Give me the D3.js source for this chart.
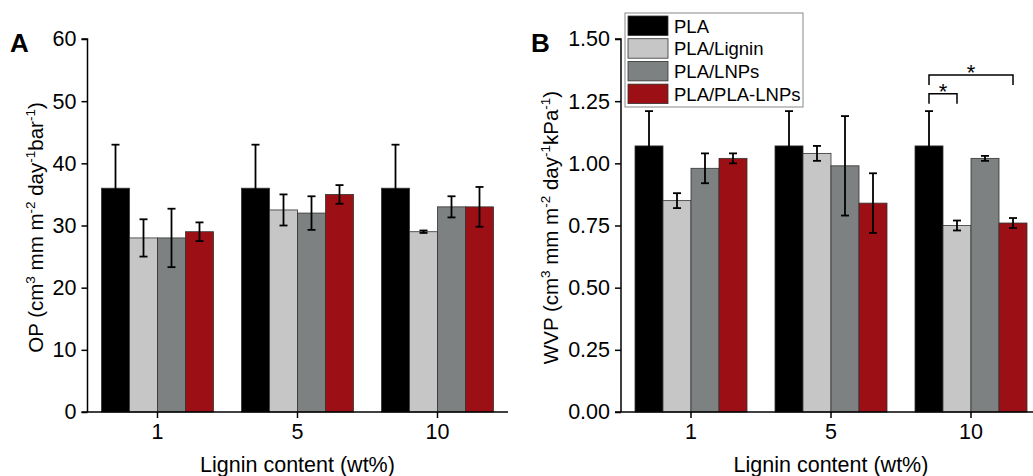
<!DOCTYPE html>
<html><head><meta charset="utf-8">
<script src="https://cdn.jsdelivr.net/npm/d3@7"></script>
<style>body{margin:0;background:#fff}svg{display:block;font-family:"Liberation Sans",Arial,sans-serif}</style>
</head><body>
<svg id="c" width="1033" height="476"></svg>
<script>
const categories = ["1", "5", "10"];
const seriesNames = ["PLA", "PLA/Lignin", "PLA/LNPs", "PLA/PLA-LNPs"];
const seriesColors = ["#000000", "#c6c6c6", "#7e8181", "#9c1015"];
// Panel A: OP
const opPLA = [36, 36, 36];
const opLignin = [28, 32.5, 29];
const opLNPs = [28, 32, 33];
const opPLALNPs = [29, 35, 33];
const opErrPLA = [7, 7, 7];
const opErrLignin = [3, 2.5, 0.2];
const opErrLNPs = [4.7, 2.7, 1.7];
const opErrPLALNPs = [1.5, 1.5, 3.2];
const opTicks = [0, 10, 20, 30, 40, 50, 60];
// Panel B: WVP
const wvpPLA = [1.07, 1.07, 1.07];
const wvpLignin = [0.85, 1.04, 0.75];
const wvpLNPs = [0.98, 0.99, 1.02];
const wvpPLALNPs = [1.02, 0.84, 0.76];
const wvpErrPLA = [0.14, 0.14, 0.14];
const wvpErrLignin = [0.03, 0.03, 0.02];
const wvpErrLNPs = [0.06, 0.2, 0.01];
const wvpErrPLALNPs = [0.02, 0.12, 0.02];
const wvpTicks = [0, 0.25, 0.5, 0.75, 1.0, 1.25, 1.5];
// significance brackets in panel B (category, from series, to series, top, end level)
const sigBrackets = [
  {cat: "10", from: 0, to: 1, top: 1.28, end: 1.24, label: "*"},
  {cat: "10", from: 0, to: 3, top: 1.355, end: 1.315, label: "*"}
];

const svg = d3.select("#c");
const FONT = 21.5;

function panel(opts) {
  const {x0, yTop, yBot, xRight, max, ticks, fmt, values, errors, letter, ylabelParts, labelX} = opts;
  const g = svg.append("g");
  const x = d3.scaleBand().domain(categories).range([x0, x0 + 420]).paddingInner(0.2).paddingOuter(0.1);
  const xs = d3.scaleBand().domain(d3.range(4)).range([0, x.bandwidth()]);
  const y = d3.scaleLinear().domain([0, max]).range([yBot, yTop]);

  // bars
  values.forEach((vals, si) => {
    g.selectAll(null).data(vals).enter().append("rect")
      .attr("x", (d, i) => x(categories[i]) + xs(si))
      .attr("y", d => y(d))
      .attr("width", xs.bandwidth())
      .attr("height", d => yBot - y(d))
      .attr("fill", seriesColors[si])
      .attr("stroke", "#333").attr("stroke-width", 0.8);
  });
  // error bars
  values.forEach((vals, si) => {
    vals.forEach((v, i) => {
      const cx = x(categories[i]) + xs(si) + xs.bandwidth() / 2;
      const e = errors[si][i];
      const eg = g.append("g").attr("stroke", "#000").attr("stroke-width", 1.8);
      eg.append("line").attr("x1", cx).attr("x2", cx).attr("y1", y(v - e)).attr("y2", y(v + e));
      eg.append("line").attr("x1", cx - 4).attr("x2", cx + 4).attr("y1", y(v + e)).attr("y2", y(v + e));
      eg.append("line").attr("x1", cx - 4).attr("x2", cx + 4).attr("y1", y(v - e)).attr("y2", y(v - e));
    });
  });

  // y axis
  const ya = g.append("g").attr("transform", `translate(${x0},0)`)
    .call(d3.axisLeft(y).tickValues(ticks).tickFormat(fmt).tickSize(6).tickPadding(5));
  ya.attr("font-size", FONT).attr("font-family", "Liberation Sans, Arial, sans-serif");
  ya.select(".domain").attr("d", `M-6,${yTop}H0V${yBot}`).attr("stroke", "#000").attr("stroke-width", 1.5);
  ya.selectAll(".tick line").attr("stroke", "#000").attr("stroke-width", 1.5);
  ya.selectAll("text").attr("font-size", FONT).attr("fill", "#000");

  // x axis
  const xa = g.append("g").attr("transform", `translate(0,${yBot})`)
    .call(d3.axisBottom(x).tickSize(6).tickPadding(6));
  xa.attr("font-size", FONT).attr("font-family", "Liberation Sans, Arial, sans-serif");
  xa.select(".domain").attr("d", `M${x0 - 6},0H${xRight}`).attr("stroke", "#000").attr("stroke-width", 1.5);
  xa.selectAll(".tick line").attr("stroke", "#000").attr("stroke-width", 1.5);
  xa.selectAll("text").attr("font-size", FONT).attr("fill", "#000");

  // x label
  g.append("text").attr("x", x0 + 210).attr("y", 472).attr("text-anchor", "middle")
    .attr("font-size", FONT).text("Lignin content (wt%)");

  // y label with superscripts
  const yl = g.append("text").attr("transform", `translate(${labelX},${(yTop + yBot) / 2 + 2}) rotate(-90)`)
    .attr("text-anchor", "middle").attr("font-size", 20.5);
  let prevSup = false;
  ylabelParts.forEach(p => {
    if (p.sup) {
      yl.append("tspan").attr("font-size", 13.5).attr("dy", -8).text(p.t);
      prevSup = true;
    } else {
      const t = yl.append("tspan").text(p.t);
      if (prevSup) t.attr("dy", 8);
      prevSup = false;
    }
  });

  // panel letter
  g.append("text").attr("x", opts.letterX).attr("y", 52).attr("font-size", 26).attr("font-weight", "bold").text(letter);
  return {x, xs, y, g};
}

panel({
  x0: 87.5, yTop: 39, yBot: 412, xRight: 508, max: 60, ticks: opTicks, fmt: d3.format("d"),
  values: [opPLA, opLignin, opLNPs, opPLALNPs],
  errors: [opErrPLA, opErrLignin, opErrLNPs, opErrPLALNPs],
  letter: "A", letterX: 10, labelX: 43,
  ylabelParts: [{t: "OP (cm"}, {t: "3", sup: true}, {t: " mm m"}, {t: "-2", sup: true}, {t: " day"}, {t: "-1", sup: true}, {t: "bar"}, {t: "-1", sup: true}, {t: ")"}]
});

const pB = panel({
  x0: 621, yTop: 39, yBot: 412, xRight: 1033, max: 1.5, ticks: wvpTicks, fmt: d3.format(".2f"),
  values: [wvpPLA, wvpLignin, wvpLNPs, wvpPLALNPs],
  errors: [wvpErrPLA, wvpErrLignin, wvpErrLNPs, wvpErrPLALNPs],
  letter: "B", letterX: 531, labelX: 558,
  ylabelParts: [{t: "WVP (cm"}, {t: "3", sup: true}, {t: " mm m"}, {t: "-2", sup: true}, {t: " day"}, {t: "-1", sup: true}, {t: "kPa"}, {t: "-1", sup: true}, {t: ")"}]
});

// significance brackets
sigBrackets.forEach(b => {
  const cx1 = pB.x(b.cat) + pB.xs(b.from) + pB.xs.bandwidth() / 2;
  const cx2 = pB.x(b.cat) + pB.xs(b.to) + pB.xs.bandwidth() / 2;
  const yt = pB.y(b.top), ye = pB.y(b.end);
  pB.g.append("path").attr("d", `M${cx1},${ye}V${yt}H${cx2}V${ye}`)
    .attr("fill", "none").attr("stroke", "#000").attr("stroke-width", 1.5);
  pB.g.append("text").attr("x", (cx1 + cx2) / 2).attr("y", yt + 5).attr("text-anchor", "middle")
    .attr("font-size", 22).text(b.label);
});

// legend
const lg = svg.append("g").attr("transform", "translate(625,13)");
lg.append("rect").attr("width", 178).attr("height", 94).attr("fill", "#fff").attr("stroke", "#888").attr("stroke-width", 1);
seriesNames.forEach((n, i) => {
  lg.append("rect").attr("x", 3).attr("y", 3 + i * 22.7).attr("width", 40).attr("height", 19.5)
    .attr("fill", seriesColors[i]).attr("stroke", "#333").attr("stroke-width", 0.8);
  lg.append("text").attr("x", 49).attr("y", 19.5 + i * 22.7).attr("font-size", 18.5).text(n);
});
</script>
</body></html>
